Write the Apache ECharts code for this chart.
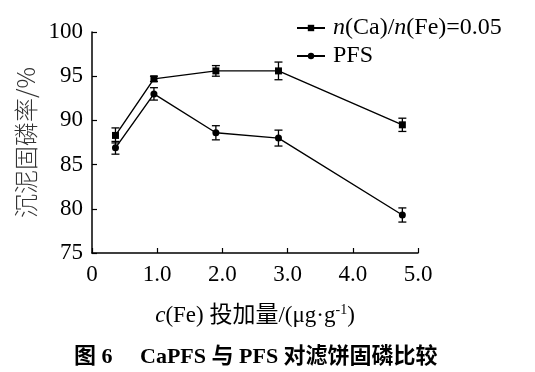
<!DOCTYPE html>
<html>
<head>
<meta charset="utf-8">
<script src="https://cdn.jsdelivr.net/npm/echarts@6/dist/echarts.min.js"></script>
<style>
html,body{margin:0;padding:0;background:#fff;}
#c{width:535px;height:372px;}
</style>
</head>
<body>
<div id="c"></div>
<script>
// Data
var doseFe = [0.36, 0.95, 1.90, 2.86, 4.76];
var caPFS = [88.3, 94.7, 95.6, 95.6, 89.5];
var caPFSErr = [0.85, 0.3, 0.6, 1.0, 0.75];
var pfs = [86.9, 93.0, 88.6, 88.0, 79.3];
var pfsErr = [0.72, 0.7, 0.8, 0.9, 0.8];
var seriesNames = ['n(Ca)/n(Fe)=0.05', 'PFS'];
var xTicks = ['0', '1.0', '2.0', '3.0', '4.0', '5.0'];
var yTicks = [75, 80, 85, 90, 95, 100];

var FONT = "'Liberation Serif','Times New Roman','Noto Sans CJK SC',serif";
var chart = echarts.init(document.getElementById('c'), null, {renderer: 'canvas'});

function pairs(xs, ys) { return xs.map(function (x, i) { return [x, ys[i]]; }); }
function errData(xs, ys, es) { return xs.map(function (x, i) { return [x, ys[i] - es[i], ys[i] + es[i]]; }); }

function errRender(params, api) {
  var x = api.value(0);
  var lo = api.coord([x, api.value(1)]);
  var hi = api.coord([x, api.value(2)]);
  var w = 4;
  var st = {stroke: '#000', lineWidth: 1.3};
  return {
    type: 'group',
    children: [
      {type: 'line', shape: {x1: lo[0], y1: lo[1], x2: hi[0], y2: hi[1]}, style: st},
      {type: 'line', shape: {x1: lo[0] - w, y1: lo[1], x2: lo[0] + w, y2: lo[1]}, style: st},
      {type: 'line', shape: {x1: hi[0] - w, y1: hi[1], x2: hi[0] + w, y2: hi[1]}, style: st}
    ]
  };
}

var option = {
  backgroundColor: '#fff',
  animation: false,
  grid: {left: 92, right: 117, top: 32, bottom: 119, containLabel: false},
  legend: {
    data: seriesNames,
    orient: 'vertical',
    left: 291,
    top: 11,
    itemWidth: 28,
    itemHeight: 8,
    itemGap: 4,
    formatter: function (name) {
      if (name === seriesNames[0]) return '{i|n}(Ca)/{i|n}(Fe)=0.05';
      return name;
    },
    textStyle: {
      fontFamily: FONT, fontSize: 24, color: '#000', padding: [0, 0, 0, 3],
      rich: {i: {fontFamily: FONT, fontSize: 24, fontStyle: 'italic', color: '#000'}}
    }
  },
  xAxis: {
    type: 'value', min: 0, max: 5, interval: 1,
    axisLine: {lineStyle: {color: '#000', width: 1.5}},
    axisTick: {inside: true, length: 5, lineStyle: {color: '#000', width: 1.2}},
    splitLine: {show: false},
    axisLabel: {
      margin: 10, color: '#000', fontFamily: FONT, fontSize: 23,
      formatter: function (v) { return xTicks[Math.round(v)]; }
    },
    name: '{i|c}(Fe) 投加量/(μg·g{sup|-1})',
    nameLocation: 'middle',
    nameGap: 50,
    nameTextStyle: {
      color: '#000', fontFamily: FONT, fontSize: 23, verticalAlign: 'top',
      rich: {
        i: {fontFamily: FONT, fontSize: 23, fontStyle: 'italic', color: '#000'},
        sup: {fontFamily: FONT, fontSize: 14, color: '#000', verticalAlign: 'top', padding: [0, 0, 11, 0]}
      }
    }
  },
  yAxis: {
    type: 'value', min: 75, max: 100, interval: 5,
    axisLine: {show: true, lineStyle: {color: '#000', width: 1.5}},
    axisTick: {show: true, inside: true, length: 5, lineStyle: {color: '#000', width: 1.2}},
    splitLine: {show: false},
    axisLabel: {
      margin: 9, color: '#000', fontFamily: FONT, fontSize: 23,
      formatter: function (v) { return yTicks.indexOf(v) >= 0 ? String(v) : ''; }
    },
    name: '沉泥固磷率/%',
    nameLocation: 'middle',
    nameGap: 50,
    nameRotate: 90,
    nameTextStyle: {color: '#333', fontFamily: "'Noto Sans CJK SC','Liberation Serif'", fontSize: 24, fontWeight: 300}
  },
  series: [
    {
      name: seriesNames[0], type: 'line', data: pairs(doseFe, caPFS),
      symbol: 'rect', symbolSize: 7, z: 3,
      lineStyle: {color: '#000', width: 1.4},
      itemStyle: {color: '#000'}
    },
    {
      name: seriesNames[1], type: 'line', data: pairs(doseFe, pfs),
      symbol: 'circle', symbolSize: 7, z: 3,
      lineStyle: {color: '#000', width: 1.4},
      itemStyle: {color: '#000'}
    },
    {
      type: 'custom', renderItem: errRender, data: errData(doseFe, caPFS, caPFSErr),
      encode: {x: 0, y: [1, 2]}, z: 2, silent: true
    },
    {
      type: 'custom', renderItem: errRender, data: errData(doseFe, pfs, pfsErr),
      encode: {x: 0, y: [1, 2]}, z: 2, silent: true
    }
  ],
  graphic: [
    {
      type: 'text', left: 74, top: 346,
      style: {
        text: '图 6　 CaPFS 与 PFS 对滤饼固磷比较',
        fontFamily: "'Liberation Serif','Noto Sans CJK SC',serif",
        fontSize: 22, fontWeight: 'bold', fill: '#000'
      }
    }
  ]
};
chart.setOption(option);
</script>
</body>
</html>
